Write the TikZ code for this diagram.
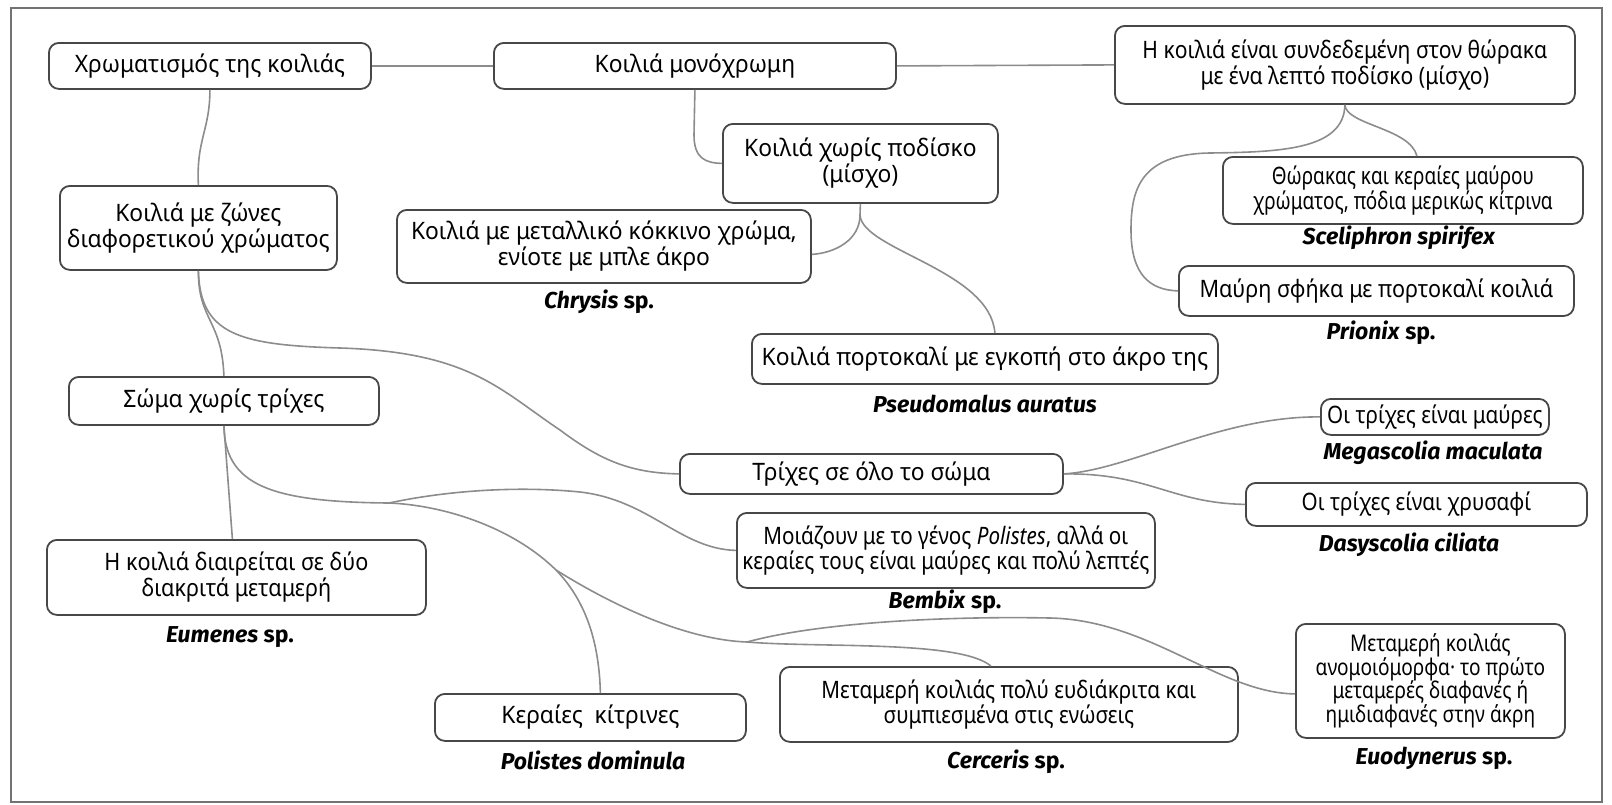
\documentclass[tikz,border=0pt]{standalone}
\usepackage{fontspec}
\setmainfont{Noto Sans}
\newfontfamily\fA[FakeStretch=0.95]{Noto Sans}
\newfontfamily\fB[FakeStretch=0.90]{Noto Sans}
\newfontfamily\fC[FakeStretch=0.88]{Noto Sans}
\newfontfamily\fD[FakeStretch=0.86]{Noto Sans}
\newfontfamily\fE[FakeStretch=0.83]{Noto Sans}
\newfontfamily\fF[FakeStretch=0.79]{Noto Sans}
\newfontfamily\lblfont{Fira Sans}
\usetikzlibrary{calc}
\begin{document}
\begin{tikzpicture}[x=0.5pt,y=-0.5pt,
  box/.style={draw=black!72, line width=0.9pt, rounded corners=5pt, fill=white,
    inner sep=0pt, align=center, anchor=north west, text=black,
    font=\fA\fontsize{12}{13}\selectfont},
  lbl/.style={text=black, inner sep=0pt, font=\lblfont\fontsize{11.5}{12}\selectfont\bfseries},
  conn/.style={draw=black!45, line width=0.8pt}]
\useasboundingbox (0,0) rectangle (1612,804);
\draw[draw=black!55, line width=0.8pt] (11,8) rectangle (1602,802);

% boxes
\node[box, minimum width=161pt, minimum height=23pt] (n1) at (48,42) {Χρωματισμός της κοιλιάς};
\node[box, minimum width=201pt, minimum height=23pt] (n2) at (493,42) {Κοιλιά μονόχρωμη};
\node[box, minimum width=230pt, minimum height=39pt, font=\fC\fontsize{12}{13}\selectfont] (n3) at (1114,25) {Η κοιλιά είναι συνδεδεμένη στον θώρακα\\με ένα λεπτό ποδίσκο (μίσχο)};
\node[box, minimum width=137.5pt, minimum height=39.5pt] (n4) at (722,123) {Κοιλιά χωρίς ποδίσκο\\(μίσχο)};
\node[box, minimum width=138.5pt, minimum height=42pt] (n5) at (59,185) {Κοιλιά με ζώνες\\διαφορετικού χρώματος};
\node[box, minimum width=207pt, minimum height=36.5pt] (n6) at (396,209) {Κοιλιά με μεταλλικό κόκκινο χρώμα,\\ενίοτε με μπλε άκρο};
\node[box, minimum width=180pt, minimum height=33.5pt, font=\fF\fontsize{12}{12.5}\selectfont] (n7) at (1222,156) {Θώρακας και κεραίες μαύρου\\χρώματος, πόδια μερικώς κίτρινα};
\node[box, minimum width=197.5pt, minimum height=25pt, font=\fB\fontsize{12}{13}\selectfont] (n8) at (1178,265) {Μαύρη σφήκα με πορτοκαλί κοιλιά};
\node[box, minimum width=155pt, minimum height=24pt] (n9) at (68,376) {Σώμα χωρίς τρίχες};
\node[box, minimum width=233pt, minimum height=25pt] (n10) at (751,333) {Κοιλιά πορτοκαλί με εγκοπή στο άκρο της};
\node[box, minimum width=191.5pt, minimum height=20pt] (n11) at (679,453) {Τρίχες σε όλο το σώμα};
\node[box, minimum width=114pt, minimum height=18pt, font=\fD\fontsize{12}{13}\selectfont] (n12) at (1320,398) {Οι τρίχες είναι μαύρες};
\node[box, minimum width=170.5pt, minimum height=21.5pt, font=\fD\fontsize{12}{13}\selectfont] (n13) at (1245,482) {Οι τρίχες είναι χρυσαφί};
\node[box, minimum width=209pt, minimum height=37.5pt, font=\fD\fontsize{12}{12.5}\selectfont] (n14) at (736,512) {Μοιάζουν με το γένος \textit{Polistes}, αλλά οι\\κεραίες τους είναι μαύρες και πολύ λεπτές};
\node[box, minimum width=189.5pt, minimum height=37.5pt, font=\fB\fontsize{12}{13}\selectfont] (n15) at (46,539) {Η κοιλιά διαιρείται σε δύο\\διακριτά μεταμερή};
\node[box, minimum width=155.5pt, minimum height=23.5pt] (n16) at (434,693) {Κεραίες\ \ κίτρινες};
\node[box, minimum width=229pt, minimum height=37.5pt, font=\fD\fontsize{12}{12.5}\selectfont] (n17) at (779,666) {Μεταμερή κοιλιάς πολύ ευδιάκριτα και\\συμπιεσμένα στις ενώσεις};
\node[box, minimum width=134.5pt, minimum height=57pt, font=\fE\fontsize{11.5}{11.75}\selectfont] (n18) at (1295,623) {Μεταμερή κοιλιάς\\ανομοιόμορφα· το πρώτο\\μεταμερές διαφανές ή\\ημιδιαφανές στην άκρη};

% species labels
\node[lbl] (l6) at (599,302) {\textit{Chrysis} sp.};
\node[lbl] (l7) at (1399,238) {\textit{Sceliphron spirifex}};
\node[lbl] (l8) at (1381,333) {\textit{Prionix} sp.};
\node[lbl] (l10) at (985,404) {\textit{Pseudomalus auratus}};
\node[lbl] (l12) at (1433,453) {\textit{Megascolia maculata}};
\node[lbl] (l13) at (1409,545) {\textit{Dasyscolia ciliata}};
\node[lbl] (l14) at (945,602) {\textit{Bembix} sp.};
\node[lbl] (l15) at (230,637) {\textit{Eumenes} sp.};
\node[lbl] (l16) at (593,760) {\textit{Polistes dominula}};
\node[lbl] (l17) at (1006,762) {\textit{Cerceris} sp.};
\node[lbl] (l18) at (1434,758) {\textit{Euodynerus} sp.};

% branch points
\coordinate (b4) at (860,215);
\coordinate (b1) at (389,503);
\coordinate (b2) at (556,570);
\coordinate (b3) at (747,642);

% connectors
\draw[conn] (n1.east) -- (n2.west);
\draw[conn] (n2.east) -- (n3.west);
\draw[conn] (n1.south) .. controls (210,130) and (196,140) .. (n5.north);
\draw[conn] (n2.south) -- (694,135) .. controls (694,158) and (705,163) .. (n4.west);
\draw[conn] (n4.south) -- (b4) .. controls (860,240) and (835,253) .. ($(n6.east)+(0,8)$);
\draw[conn] (b4) .. controls (862,250) and (990,270) .. ($(n10.north)+(10,0)$);
\draw[conn] (n3.south) .. controls (1346,125) and (1410,128) .. ($(n7.north)+(14,0)$);
\draw[conn] (n3.south) .. controls (1344,150) and (1280,152) .. (1210,153)
  .. controls (1140,154) and (1131,190) .. (1131,230)
  .. controls (1131,275) and (1150,290) .. (n8.west);
\draw[conn] (n5.south) .. controls (198,320) and (222,320) .. (n9.north);
\draw[conn] (n5.south) .. controls (200,335) and (240,345) .. (340,348)
  .. controls (470,352) and (500,390) .. (560,430)
  .. controls (600,460) and (630,473) .. (n11.west);
\draw[conn] (n9.south) -- ($(n15.north)+(-4,0)$);
\draw[conn] (n9.south) .. controls (225,485) and (270,502) .. (b1);
\draw[conn] (b1) .. controls (450,490) and (520,486) .. (580,492)
  .. controls (650,500) and (680,549) .. (n14.west);
\draw[conn] (b1) .. controls (440,505) and (510,525) .. (b2);
\draw[conn] (b2) .. controls (585,600) and (599,640) .. ($(n16.north)+(10,0)$);
\draw[conn] (b2) .. controls (620,610) and (690,640) .. (b3);
\draw[conn] (b3) .. controls (820,622) and (950,616) .. (1050,618)
  .. controls (1150,620) and (1220,693) .. ($(n18.west)+(0,13)$);
\draw[conn] (b3) .. controls (820,648) and (960,640) .. ($(n17.north)+(-18,0)$);
\draw[conn] (n11.east) .. controls (1130,470) and (1220,416) .. (n12.west);
\draw[conn] (n11.east) .. controls (1150,473) and (1170,503) .. (n13.west);
\end{tikzpicture}
\end{document}
